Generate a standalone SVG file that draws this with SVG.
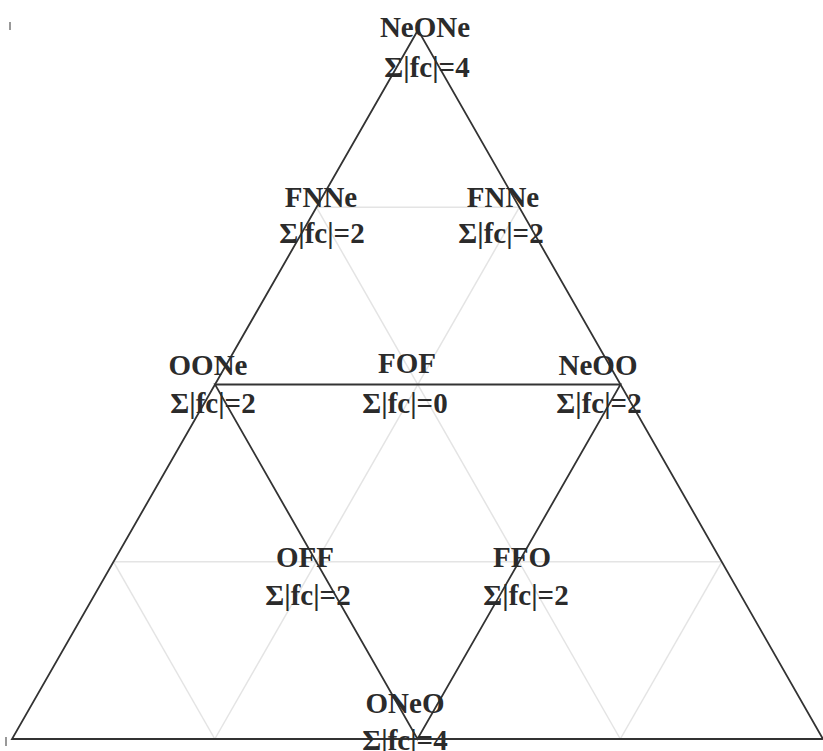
<svg xmlns="http://www.w3.org/2000/svg" width="823" height="751" viewBox="0 0 823 751">
<style>
.grid{stroke:#e4e4e4;stroke-width:1.5;fill:none}
.main{stroke:#333;stroke-width:1.8;fill:none}
.lbl{font-family:"Liberation Serif","Times New Roman",serif;font-weight:bold;font-size:29px;fill:#2b2b2b;text-anchor:middle}
</style>
<rect width="823" height="751" fill="#fff"/>
<g id="grid">
<line class="grid" x1="316.5" y1="207.3" x2="519.3" y2="207.3"/>
<line class="grid" x1="113.5" y1="561.8" x2="721.8" y2="561.8"/>
<line class="grid" x1="316.5" y1="207.3" x2="620.3" y2="739"/>
<line class="grid" x1="113.5" y1="561.8" x2="214.8" y2="739"/>
<line class="grid" x1="519.3" y1="207.3" x2="214.8" y2="739"/>
<line class="grid" x1="721.8" y1="561.8" x2="620.3" y2="739"/>
</g>
<g id="connectors">
<polygon class="main" points="418,30 12,739 823,739"/>
<polygon class="main" points="215,384.5 620.5,384.5 417.5,739"/>
<line stroke="#777" stroke-width="1.5" x1="10" y1="22" x2="10" y2="30"/>
<line stroke="#777" stroke-width="1.5" x1="6" y1="737" x2="6" y2="746"/>
</g>
<g id="NeONe"><text class="lbl" x="425" y="37">NeONe</text><text class="lbl" x="427" y="77">Σ|fc|=4</text></g>
<g id="FNNe-left"><text class="lbl" x="321" y="207">FNNe</text><text class="lbl" x="322" y="243">Σ|fc|=2</text></g>
<g id="FNNe-right"><text class="lbl" x="503" y="207">FNNe</text><text class="lbl" x="501" y="243">Σ|fc|=2</text></g>
<g id="OONe"><text class="lbl" x="208" y="375">OONe</text><text class="lbl" x="213" y="413">Σ|fc|=2</text></g>
<g id="FOF"><text class="lbl" x="407" y="373">FOF</text><text class="lbl" x="405" y="413">Σ|fc|=0</text></g>
<g id="NeOO"><text class="lbl" x="598" y="375">NeOO</text><text class="lbl" x="599" y="413">Σ|fc|=2</text></g>
<g id="OFF"><text class="lbl" x="305" y="567">OFF</text><text class="lbl" x="308" y="605">Σ|fc|=2</text></g>
<g id="FFO"><text class="lbl" x="522" y="567">FFO</text><text class="lbl" x="526" y="605">Σ|fc|=2</text></g>
<g id="ONeO"><text class="lbl" x="405" y="713">ONeO</text><text class="lbl" x="405" y="750">Σ|fc|=4</text></g>
</svg>
